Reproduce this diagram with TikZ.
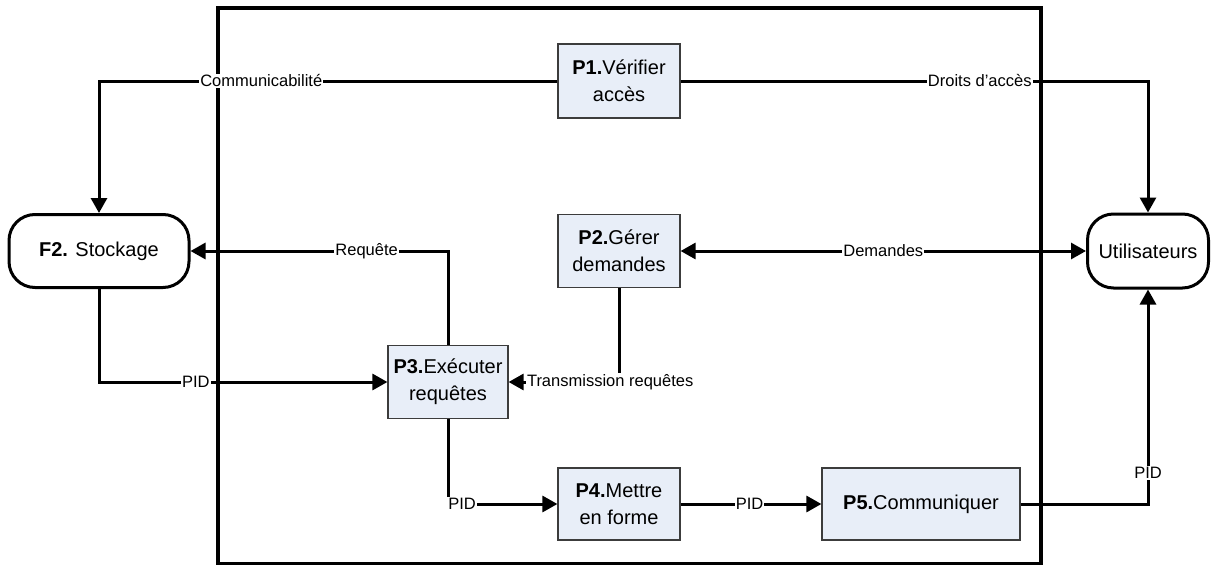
\documentclass[tikz,border=0pt]{standalone}
\usepackage{fontspec}
\setmainfont{Liberation Sans}
\usetikzlibrary{arrows.meta}
\definecolor{boxfill}{RGB}{232,238,248}
\definecolor{boxline}{RGB}{60,60,60}
\tikzset{
  x=1pt, y=-1pt,
  proc/.style={draw=boxline, line width=1.2pt, fill=boxfill, align=center, inner sep=2pt,
    font=\fontsize{20}{27}\selectfont},
  store/.style={draw=black, line width=3pt, rounded corners=26pt, fill=white, align=center,
    font=\fontsize{20}{27}\selectfont},
  conn/.style={line width=3pt, -{Triangle[width=16pt,length=15pt]}},
  conn2/.style={line width=3pt, {Triangle[width=16pt,length=15pt]}-{Triangle[width=16pt,length=15pt]}},
  lbl/.style={fill=white, inner sep=1pt, font=\fontsize{16.5}{18}\selectfont},
}
\begin{document}
\begin{tikzpicture}
\useasboundingbox (0,0) rectangle (1211,565);
% outer system boundary
\draw[line width=3.5pt] (218,8) rectangle (1041,564);

% processes
\node[proc, minimum width=122pt, minimum height=74pt] (P1) at (619,81) {\textbf{P1.}Vérifier\\accès};
\node[proc, minimum width=122pt, minimum height=73pt] (P2) at (619,251) {\textbf{P2.}Gérer\\demandes};
\node[proc, minimum width=120pt, minimum height=73pt] (P3) at (448,382) {\textbf{P3.}Exécuter\\requêtes};
\node[proc, minimum width=122pt, minimum height=72pt] (P4) at (619,504) {\textbf{P4.}Mettre\\en forme};
\node[proc, minimum width=198pt, minimum height=72pt] (P5) at (921,504) {\textbf{P5.}Communiquer};

% stores / externals
\node[store, minimum width=180pt, minimum height=73pt] (F2) at (99,251) {\textbf{F2.} Stockage};
\node[store, minimum width=121pt, minimum height=74pt] (U) at (1148,251) {Utilisateurs};

% connectors
\draw[conn] (P1.west) -| node[lbl, pos=0.323] {Communicabilité} (F2.north);
\draw[conn] (P1.east) -| node[lbl, pos=0.32] {Droits d’accès} (U.north);
\draw[conn2] (P2.east) -- node[lbl, pos=0.5] {Demandes} (U.west);
\draw[conn] (P3.north) |- node[lbl, pos=0.658] {Requête} (F2.east);
\draw[conn] (F2.south) |- node[lbl, pos=0.668] {PID} (P3.west);
\draw[conn] (P2.south) |- node[lbl, pos=0.54] {Transmission requêtes} (P3.east);
\draw[conn] (P3.south) |- node[lbl, pos=0.564] {PID} (P4.west);
\draw[conn] (P4.east) -- node[lbl, pos=0.49] {PID} (P5.west);
\draw[conn] (P5.east) -| node[lbl, pos=0.572] {PID} (U.south);
\end{tikzpicture}
\end{document}
